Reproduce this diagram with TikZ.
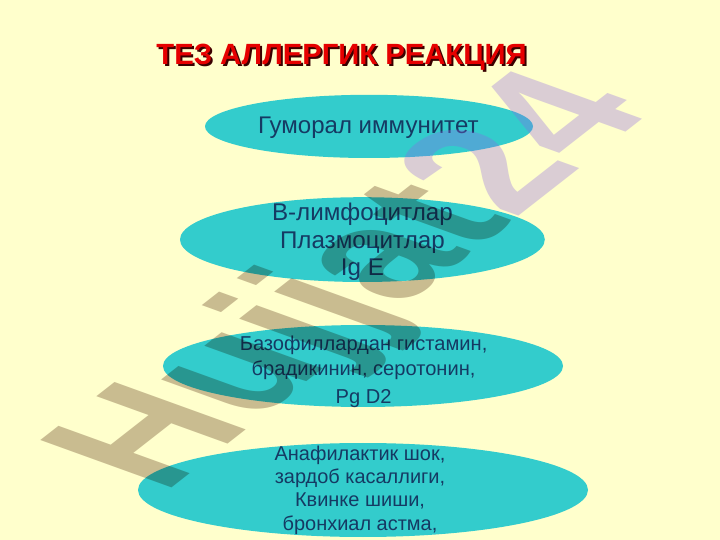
\documentclass[tikz,border=0pt]{standalone}
\usepackage{fontspec}
\setmainfont{Liberation Sans}
\usetikzlibrary{shapes.geometric}

\definecolor{slidebg}{HTML}{FFFFCC}
\definecolor{blobfill}{HTML}{33CCCC}
\definecolor{inktext}{HTML}{153A63}
\definecolor{titlered}{HTML}{E60000}
\definecolor{titleshade}{HTML}{3A0000}
\definecolor{marktan}{RGB}{201,188,181}
\definecolor{marklav}{RGB}{140,100,230}

\tikzset{
  blob/.style={ellipse, fill=blobfill, draw=none, inner sep=0pt},
  lbl/.style={text=inktext, align=center, inner sep=0pt},
  headline/.style={font=\bfseries\fontsize{20.8}{24}\selectfont, inner sep=0pt, anchor=base}
}

\begin{document}
\begin{tikzpicture}
%slide
  \fill[slidebg] (0,0) rectangle (18,13.5);
  \useasboundingbox (0,0) rectangle (18,13.5);
%Title with shadow
  \node[headline, text=titleshade] (titleshadow) at (8.59,11.825) {ТЕЗ АЛЛЕРГИК РЕАКЦИЯ};
  \node[headline, text=titlered] (title) at (8.54,11.875) {ТЕЗ АЛЛЕРГИК РЕАКЦИЯ};
%Ellipses
  \node[blob, minimum width=8.2cm, minimum height=1.58cm] (humoral) at (9.225,10.34) {};
  \node[blob, minimum width=9.12cm, minimum height=2.12cm] (cells) at (9.06,7.51) {};
  \node[blob, minimum width=10cm, minimum height=2.05cm] (mediators) at (9.075,4.35) {};
  \node[blob, minimum width=11.25cm, minimum height=2.35cm] (clinic) at (9.075,1.25) {};
%Texts
  \node[lbl, font=\fontsize{17.1}{19.4}\selectfont] (humoraltxt) at (9.21,10.3) {Гуморал иммунитет};
  \node[lbl, font=\fontsize{17.2}{19.4}\selectfont] (cellstxt) at (9.06,7.45)
    {В-лимфоцитлар\\Плазмоцитлар\\Ig E};
  \node[lbl, font=\fontsize{14.3}{17.3}\selectfont] (mediatorstxt) at (9.09,4.2)
    {Базофиллардан гистамин,\\брадикинин, серотонин,\\[3pt]Pg D2};
  \node[lbl, font=\fontsize{14.2}{16.6}\selectfont] (clinictxt) at (9.0,1.25)
    {Анафилактик шок,\\зардоб касаллиги,\\Квинке шиши,\\бронхиал астма,};
%Watermark
  \begin{scope}[cm={0.788,0.616,-1.19,0.43,(4.08,1.14)}]
    \begin{scope}[blend mode=multiply]
      \node[transform shape, anchor=base west, inner sep=0pt, text=marktan,
        font=\bfseries\fontsize{114}{114}\selectfont] (markword) at (0,0) {Hujjat};
    \end{scope}
    \node[transform shape, anchor=base west, inner sep=0pt, text=marklav, text opacity=.32,
      font=\bfseries\fontsize{114}{114}\selectfont] (marknum) at (markword.base east) {24};
  \end{scope}
\end{tikzpicture}
\end{document}
